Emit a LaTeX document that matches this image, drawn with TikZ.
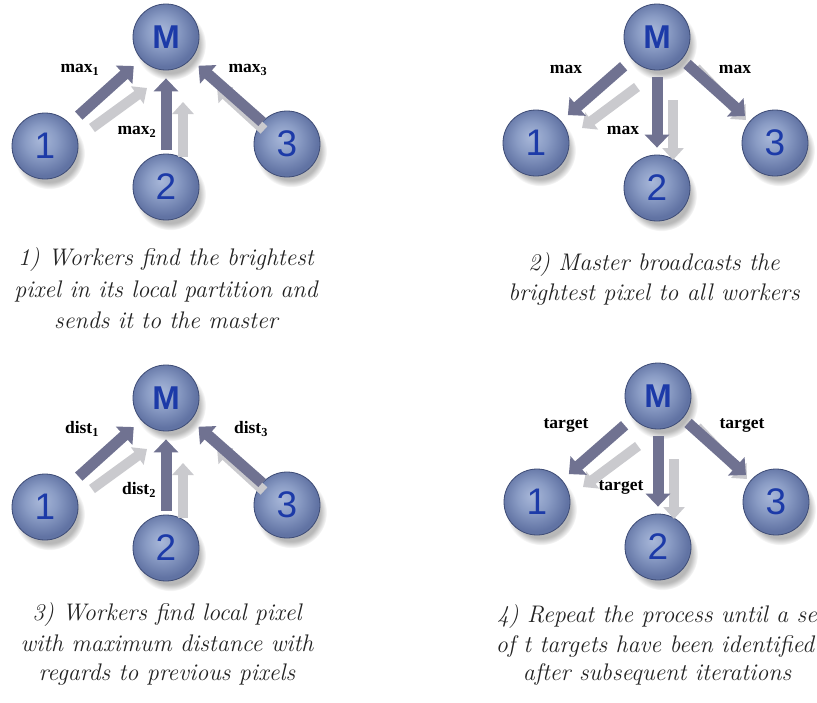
\documentclass[tikz,border=0pt]{standalone}
\usepackage{fontspec}
\newfontfamily\lblfont{Liberation Serif}
\newfontfamily\numfont{Liberation Sans}
\usetikzlibrary{arrows.meta,shadows,fadings}
\definecolor{arrowc}{RGB}{112,114,145}
\definecolor{ghostc}{RGB}{202,202,206}
\definecolor{ballline}{RGB}{62,76,118}
\definecolor{balltext}{RGB}{28,58,168}
\definecolor{captext}{RGB}{35,35,35}
\pgfdeclareradialshading{sphere}{\pgfpoint{-4bp}{5bp}}{rgb(0bp)=(0.66,0.72,0.85); rgb(12bp)=(0.54,0.61,0.77); rgb(25bp)=(0.38,0.45,0.64); rgb(50bp)=(0.38,0.45,0.64)}
\tikzset{
  ball/.style={circle, minimum size=66pt, inner sep=0pt, shade, shading=sphere,
    draw=ballline, line width=0.8pt, text=balltext,
    font=\numfont\fontsize{37}{37}\selectfont,
    general shadow={fill=black, fill opacity=0.28, shadow xshift=4pt, shadow yshift=-7pt,
      shadow scale=1.08, path fading=circle with fuzzy edge 20 percent}},
  master/.style={ball, font=\numfont\bfseries\fontsize{33}{33}\selectfont},
  darrow/.style={draw=arrowc, line width=11pt, -{Triangle[width=24pt,length=13pt]}},
  garrow/.style={draw=ghostc, line width=10pt, -{Triangle[width=21pt,length=12pt]}},
  lbl/.style={font=\lblfont\bfseries\fontsize{17.5}{17.5}\selectfont, inner sep=0pt},
  capline/.style={font=\itshape\fontsize{24}{24}\selectfont, text=captext, anchor=base, inner sep=0pt},
}
% workers send to master
\newcommand\gatherpanel[2]{%
\begin{scope}[shift={#2}]
  \node[master] (#1M) at (166,37) {M};
  \node[ball] (#1A) at (45,146) {1};
  \node[ball] (#1B) at (166,187) {2};
  \node[ball] (#1C) at (287,144) {3};
  \coordinate (#1gas) at (92,128);  \coordinate (#1gae) at (147,88);
  \coordinate (#1gbs) at (183,157); \coordinate (#1gbe) at (183,102);
  \coordinate (#1gcs) at (264,130); \coordinate (#1gce) at (217,87);
  \draw[garrow] (#1gas) -- (#1gae);
  \draw[garrow] (#1gbs) -- (#1gbe);
  \draw[garrow] (#1gcs) -- (#1gce);
  \draw[darrow, shorten <=12pt, shorten >=10pt] (#1A) -- (#1M);
  \draw[darrow, shorten <=4pt, shorten >=8pt] (#1B) -- (#1M);
  \draw[darrow, shorten <=0pt, shorten >=10pt] (#1C) -- (#1M);
\end{scope}}
% master sends to workers
\newcommand\bcastpanel[2]{%
\begin{scope}[shift={#2}]
  \node[master] (#1M) at (177,37) {M};
  \node[ball] (#1A) at (56,143) {1};
  \node[ball] (#1B) at (177,188) {2};
  \node[ball] (#1C) at (295,143) {3};
  \coordinate (#1gas) at (157,87);  \coordinate (#1gae) at (102,128);
  \coordinate (#1gbs) at (193,100); \coordinate (#1gbe) at (193,160);
  \coordinate (#1gcs) at (216,68);  \coordinate (#1gce) at (266,120);
  \draw[garrow] (#1gas) -- (#1gae);
  \draw[garrow] (#1gbs) -- (#1gbe);
  \draw[garrow] (#1gcs) -- (#1gce);
  \draw[darrow, shorten <=11pt, shorten >=9pt] (#1M) -- (#1A);
  \draw[darrow, shorten <=7pt, shorten >=7pt] (#1M) -- (#1B);
  \draw[darrow, shorten <=7pt, shorten >=7pt] (#1M) -- (#1C);
\end{scope}}
\begin{document}
\begin{tikzpicture}[x=1pt,y=-1pt]
\useasboundingbox (0,0) rectangle (817,702);
\clip (0,0) rectangle (817,702);
\fill[white] (0,0) rectangle (817,702);

\gatherpanel{p}{(0,0)}
\bcastpanel{q}{(480,0)}
\gatherpanel{r}{(0,361)}
\bcastpanel{s}{(481,359)}

% labels
\node[lbl] (pla) at (80,70) {max\textsubscript{1}};
\node[lbl] (plb) at (137,132) {max\textsubscript{2}};
\node[lbl] (plc) at (248,70) {max\textsubscript{3}};
\node[lbl] (qla) at (566,69) {max};
\node[lbl] (qlb) at (623,130) {max};
\node[lbl] (qlc) at (735,69) {max};
\node[lbl] (rla) at (82,429) {dist\textsubscript{1}};
\node[lbl] (rlb) at (139,490) {dist\textsubscript{2}};
\node[lbl] (rlc) at (251,429) {dist\textsubscript{3}};
\node[lbl] (sla) at (566,425) {target};
\node[lbl] (slb) at (621,487) {target};
\node[lbl] (slc) at (742,425) {target};

% captions
\node[capline] (c1a) at (166,265) {1) Workers find the brightest};
\node[capline] (c1b) at (166,297) {pixel in its local partition and};
\node[capline] (c1c) at (166,328) {sends it to the master};
\node[capline] (c2a) at (654,270) {2) Master broadcasts the};
\node[capline] (c2b) at (654,300) {brightest pixel to all workers};
\node[capline] (c3a) at (167,620) {3) Workers find local pixel};
\node[capline] (c3b) at (167,651) {with maximum distance with};
\node[capline] (c3c) at (167,680) {regards to previous pixels};
\node[capline, anchor=base west] (c4a) at (497,622) {4) Repeat the process until a set};
\node[capline] (c4b) at (655,652) {of t targets have been identified};
\node[capline] (c4c) at (657,680) {after subsequent iterations};
\end{tikzpicture}
\end{document}
